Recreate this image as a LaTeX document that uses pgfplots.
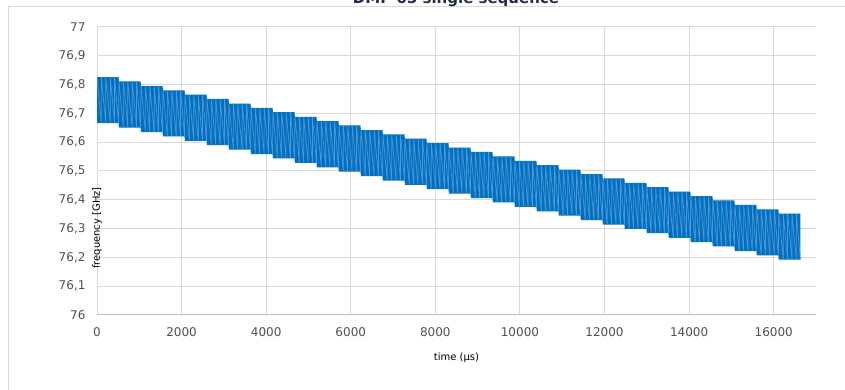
\documentclass[border=0pt]{standalone}
\usepackage{fontspec}
\setmainfont{DejaVu Sans}
\usepackage{pgfplots}
\pgfplotsset{compat=1.18}
\definecolor{chirp}{RGB}{0,112,192}
\definecolor{streak}{RGB}{80,150,215}
\definecolor{gridc}{RGB}{217,217,217}
\definecolor{axisc}{RGB}{191,191,191}
\definecolor{tickc}{RGB}{80,80,80}
\definecolor{titlec}{RGB}{35,45,75}
\begin{document}
\begin{tikzpicture}
\draw[gridc, line width=1pt] (8pt,0pt) -- (8pt,383pt) -- (845pt,383pt);
\node[anchor=base, font=\bfseries\fontsize{15}{18}\selectfont, text=titlec, inner sep=0pt] at (456pt,386pt) {DMP 05 single sequence};
\begin{axis}[
  at={(97pt,75pt)}, anchor=south west,
  scale only axis, width=719pt, height=288pt,
  xmin=0, xmax=17000, ymin=76, ymax=77,
  xtick={0,2000,4000,6000,8000,10000,12000,14000,16000},
  ytick={76,76.1,76.2,76.3,76.4,76.5,76.6,76.7,76.8,76.9,77},
  scaled x ticks=false,
  /pgf/number format/assume math mode=true,
  /pgf/number format/use comma,
  /pgf/number format/1000 sep={},
  major tick length=0pt,
  grid=major,
  major grid style={gridc, line width=1pt},
  axis lines*=left,
  separate axis lines,
  x axis line style={axisc, line width=1pt, -},
  y axis line style={draw=none},
  tick label style={font=\fontsize{12}{14}\selectfont, text=tickc},
  xticklabel style={yshift=-9pt},
  yticklabel style={xshift=-8pt},
  xlabel={time (µs)},
  ylabel={frequency [GHz]},
  label style={font=\fontsize{10.5}{12}\selectfont, text=tickc},
  every axis x label/.style={at={(axis description cs:0.5,0)}, anchor=center, yshift=-43pt},
  every axis y label/.style={at={(axis description cs:0,0.5)}, anchor=center, rotate=90, xshift=-57pt},
]
% envelope of the chirp blocks (top edge left to right, bottom edge right to left)
\addplot[fill=chirp, draw=none] coordinates {
(0,76.826)(510,76.826)(520,76.811)(1030,76.811)(1040,76.795)(1550,76.795)(1560,76.780)(2070,76.780)(2080,76.765)(2590,76.765)(2600,76.750)(3110,76.750)(3120,76.734)(3630,76.734)(3640,76.719)(4150,76.719)(4160,76.704)(4670,76.704)(4680,76.688)(5190,76.688)(5200,76.673)(5710,76.673)(5720,76.658)(6230,76.658)(6240,76.642)(6750,76.642)(6760,76.627)(7270,76.627)(7280,76.612)(7790,76.612)(7800,76.597)(8310,76.597)(8320,76.581)(8830,76.581)(8840,76.566)(9350,76.566)(9360,76.551)(9870,76.551)(9880,76.535)(10390,76.535)(10400,76.520)(10910,76.520)(10920,76.505)(11430,76.505)(11440,76.489)(11950,76.489)(11960,76.474)(12470,76.474)(12480,76.459)(12990,76.459)(13000,76.444)(13510,76.444)(13520,76.428)(14030,76.428)(14040,76.413)(14550,76.413)(14560,76.398)(15070,76.398)(15080,76.382)(15590,76.382)(15600,76.367)(16110,76.367)(16120,76.352)(16630,76.352)
(16630,76.192)(16120,76.192)(16110,76.207)(15600,76.207)(15590,76.222)(15080,76.222)(15070,76.238)(14560,76.238)(14550,76.253)(14040,76.253)(14030,76.268)(13520,76.268)(13510,76.284)(13000,76.284)(12990,76.299)(12480,76.299)(12470,76.314)(11960,76.314)(11950,76.329)(11440,76.329)(11430,76.345)(10920,76.345)(10910,76.360)(10400,76.360)(10390,76.375)(9880,76.375)(9870,76.391)(9360,76.391)(9350,76.406)(8840,76.406)(8830,76.421)(8320,76.421)(8310,76.437)(7800,76.437)(7790,76.452)(7280,76.452)(7270,76.467)(6760,76.467)(6750,76.482)(6240,76.482)(6230,76.498)(5720,76.498)(5710,76.513)(5200,76.513)(5190,76.528)(4680,76.528)(4670,76.544)(4160,76.544)(4150,76.559)(3640,76.559)(3630,76.574)(3120,76.574)(3110,76.590)(2600,76.590)(2590,76.605)(2080,76.605)(2070,76.620)(1560,76.620)(1550,76.635)(1040,76.635)(1030,76.651)(520,76.651)(510,76.666)(0,76.666)
} -- cycle;
% individual chirps (sawtooth)
\addplot[streak, line width=0.7pt, line join=bevel] coordinates {
(0,76.826)(104,76.666)(104,76.826)(208,76.666)(208,76.826)(312,76.666)(312,76.826)(416,76.666)(416,76.826)(510,76.666)
(520,76.811)(624,76.651)(624,76.811)(728,76.651)(728,76.811)(832,76.651)(832,76.811)(936,76.651)(936,76.811)(1030,76.651)
(1040,76.795)(1144,76.635)(1144,76.795)(1248,76.635)(1248,76.795)(1352,76.635)(1352,76.795)(1456,76.635)(1456,76.795)(1550,76.635)
(1560,76.780)(1664,76.620)(1664,76.780)(1768,76.620)(1768,76.780)(1872,76.620)(1872,76.780)(1976,76.620)(1976,76.780)(2070,76.620)
(2080,76.765)(2184,76.605)(2184,76.765)(2288,76.605)(2288,76.765)(2392,76.605)(2392,76.765)(2496,76.605)(2496,76.765)(2590,76.605)
(2600,76.750)(2704,76.590)(2704,76.750)(2808,76.590)(2808,76.750)(2912,76.590)(2912,76.750)(3016,76.590)(3016,76.750)(3110,76.590)
(3120,76.734)(3224,76.574)(3224,76.734)(3328,76.574)(3328,76.734)(3432,76.574)(3432,76.734)(3536,76.574)(3536,76.734)(3630,76.574)
(3640,76.719)(3744,76.559)(3744,76.719)(3848,76.559)(3848,76.719)(3952,76.559)(3952,76.719)(4056,76.559)(4056,76.719)(4150,76.559)
(4160,76.704)(4264,76.544)(4264,76.704)(4368,76.544)(4368,76.704)(4472,76.544)(4472,76.704)(4576,76.544)(4576,76.704)(4670,76.544)
(4680,76.688)(4784,76.528)(4784,76.688)(4888,76.528)(4888,76.688)(4992,76.528)(4992,76.688)(5096,76.528)(5096,76.688)(5190,76.528)
(5200,76.673)(5304,76.513)(5304,76.673)(5408,76.513)(5408,76.673)(5512,76.513)(5512,76.673)(5616,76.513)(5616,76.673)(5710,76.513)
(5720,76.658)(5824,76.498)(5824,76.658)(5928,76.498)(5928,76.658)(6032,76.498)(6032,76.658)(6136,76.498)(6136,76.658)(6230,76.498)
(6240,76.642)(6344,76.482)(6344,76.642)(6448,76.482)(6448,76.642)(6552,76.482)(6552,76.642)(6656,76.482)(6656,76.642)(6750,76.482)
(6760,76.627)(6864,76.467)(6864,76.627)(6968,76.467)(6968,76.627)(7072,76.467)(7072,76.627)(7176,76.467)(7176,76.627)(7270,76.467)
(7280,76.612)(7384,76.452)(7384,76.612)(7488,76.452)(7488,76.612)(7592,76.452)(7592,76.612)(7696,76.452)(7696,76.612)(7790,76.452)
(7800,76.597)(7904,76.437)(7904,76.597)(8008,76.437)(8008,76.597)(8112,76.437)(8112,76.597)(8216,76.437)(8216,76.597)(8310,76.437)
(8320,76.581)(8424,76.421)(8424,76.581)(8528,76.421)(8528,76.581)(8632,76.421)(8632,76.581)(8736,76.421)(8736,76.581)(8830,76.421)
(8840,76.566)(8944,76.406)(8944,76.566)(9048,76.406)(9048,76.566)(9152,76.406)(9152,76.566)(9256,76.406)(9256,76.566)(9350,76.406)
(9360,76.551)(9464,76.391)(9464,76.551)(9568,76.391)(9568,76.551)(9672,76.391)(9672,76.551)(9776,76.391)(9776,76.551)(9870,76.391)
(9880,76.535)(9984,76.375)(9984,76.535)(10088,76.375)(10088,76.535)(10192,76.375)(10192,76.535)(10296,76.375)(10296,76.535)(10390,76.375)
(10400,76.520)(10504,76.360)(10504,76.520)(10608,76.360)(10608,76.520)(10712,76.360)(10712,76.520)(10816,76.360)(10816,76.520)(10910,76.360)
(10920,76.505)(11024,76.345)(11024,76.505)(11128,76.345)(11128,76.505)(11232,76.345)(11232,76.505)(11336,76.345)(11336,76.505)(11430,76.345)
(11440,76.489)(11544,76.329)(11544,76.489)(11648,76.329)(11648,76.489)(11752,76.329)(11752,76.489)(11856,76.329)(11856,76.489)(11950,76.329)
(11960,76.474)(12064,76.314)(12064,76.474)(12168,76.314)(12168,76.474)(12272,76.314)(12272,76.474)(12376,76.314)(12376,76.474)(12470,76.314)
(12480,76.459)(12584,76.299)(12584,76.459)(12688,76.299)(12688,76.459)(12792,76.299)(12792,76.459)(12896,76.299)(12896,76.459)(12990,76.299)
(13000,76.444)(13104,76.284)(13104,76.444)(13208,76.284)(13208,76.444)(13312,76.284)(13312,76.444)(13416,76.284)(13416,76.444)(13510,76.284)
(13520,76.428)(13624,76.268)(13624,76.428)(13728,76.268)(13728,76.428)(13832,76.268)(13832,76.428)(13936,76.268)(13936,76.428)(14030,76.268)
(14040,76.413)(14144,76.253)(14144,76.413)(14248,76.253)(14248,76.413)(14352,76.253)(14352,76.413)(14456,76.253)(14456,76.413)(14550,76.253)
(14560,76.398)(14664,76.238)(14664,76.398)(14768,76.238)(14768,76.398)(14872,76.238)(14872,76.398)(14976,76.238)(14976,76.398)(15070,76.238)
(15080,76.382)(15184,76.222)(15184,76.382)(15288,76.222)(15288,76.382)(15392,76.222)(15392,76.382)(15496,76.222)(15496,76.382)(15590,76.222)
(15600,76.367)(15704,76.207)(15704,76.367)(15808,76.207)(15808,76.367)(15912,76.207)(15912,76.367)(16016,76.207)(16016,76.367)(16110,76.207)
(16120,76.352)(16224,76.192)(16224,76.352)(16328,76.192)(16328,76.352)(16432,76.192)(16432,76.352)(16536,76.192)(16536,76.352)(16630,76.192)
};
\end{axis}
\pgfresetboundingbox
\path (0pt,0pt) rectangle (845pt,390pt);
\end{tikzpicture}
\end{document}
